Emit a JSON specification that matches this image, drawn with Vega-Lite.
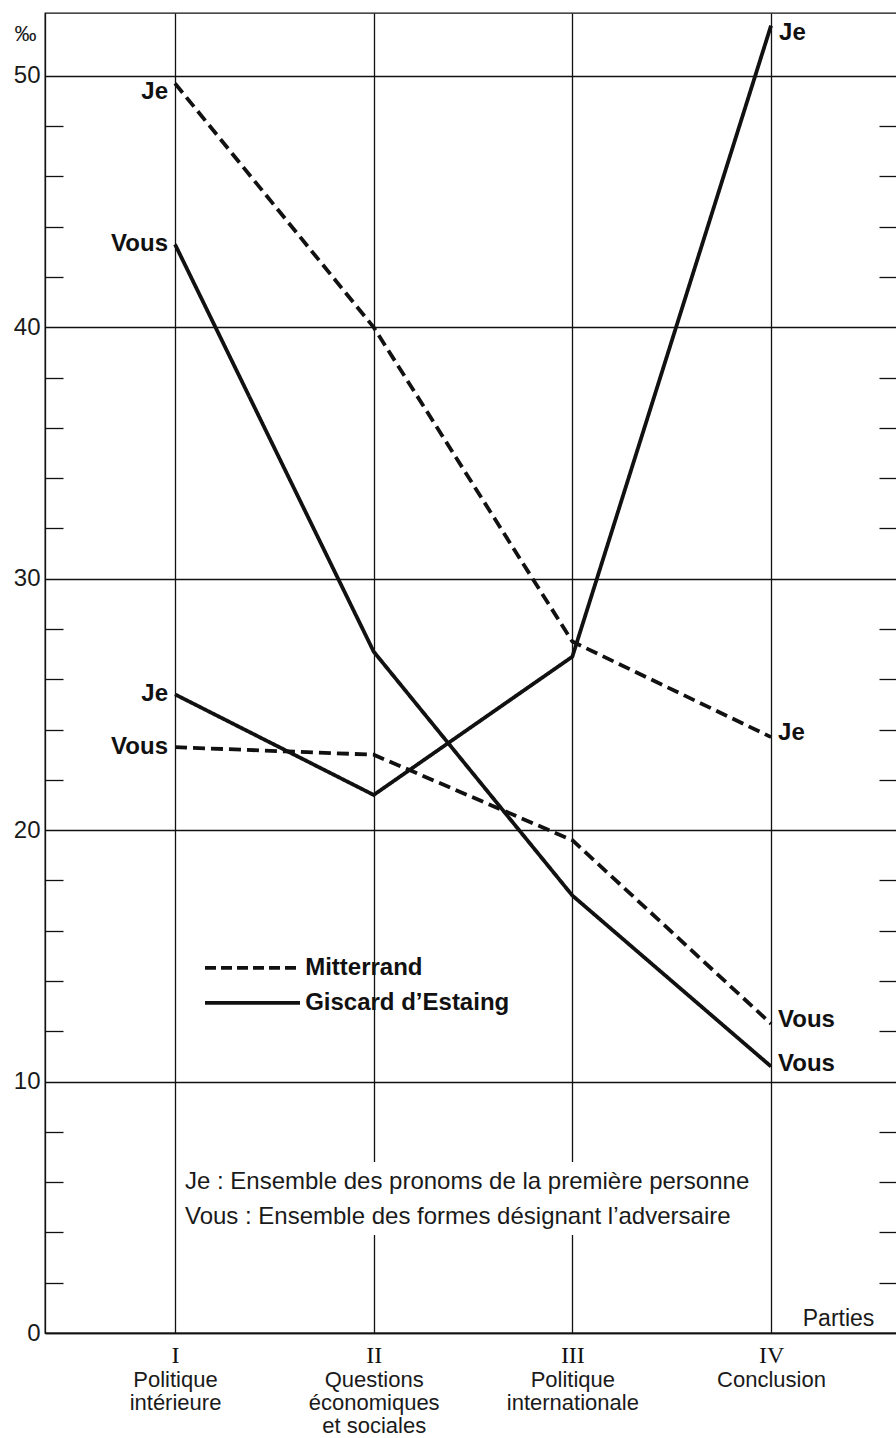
{
  "$schema": "https://vega.github.io/schema/vega-lite/v6.json",
  "width": 852,
  "height": 1320,
  "autosize": {"type": "none"},
  "padding": {"left": 45, "top": 13, "right": 0, "bottom": 105},
  "background": "white",
  "config": {
    "view": {"stroke": "#111", "strokeWidth": 1.3},
    "font": "Liberation Sans",
    "axis": {"labelFont": "Liberation Sans", "titleFont": "Liberation Sans"}
  },
  "data": {
    "values": [
      {"candidate": "Mitterrand", "pronoun": "Je", "part": 1, "value": 49.7},
      {"candidate": "Mitterrand", "pronoun": "Je", "part": 2, "value": 40.0},
      {"candidate": "Mitterrand", "pronoun": "Je", "part": 3, "value": 27.5},
      {"candidate": "Mitterrand", "pronoun": "Je", "part": 4, "value": 23.7},
      {"candidate": "Mitterrand", "pronoun": "Vous", "part": 1, "value": 23.3},
      {"candidate": "Mitterrand", "pronoun": "Vous", "part": 2, "value": 23.0},
      {"candidate": "Mitterrand", "pronoun": "Vous", "part": 3, "value": 19.6},
      {"candidate": "Mitterrand", "pronoun": "Vous", "part": 4, "value": 12.3},
      {"candidate": "Giscard d’Estaing", "pronoun": "Je", "part": 1, "value": 25.4},
      {"candidate": "Giscard d’Estaing", "pronoun": "Je", "part": 2, "value": 21.4},
      {"candidate": "Giscard d’Estaing", "pronoun": "Je", "part": 3, "value": 26.9},
      {"candidate": "Giscard d’Estaing", "pronoun": "Je", "part": 4, "value": 52.0},
      {"candidate": "Giscard d’Estaing", "pronoun": "Vous", "part": 1, "value": 43.3},
      {"candidate": "Giscard d’Estaing", "pronoun": "Vous", "part": 2, "value": 27.1},
      {"candidate": "Giscard d’Estaing", "pronoun": "Vous", "part": 3, "value": 17.4},
      {"candidate": "Giscard d’Estaing", "pronoun": "Vous", "part": 4, "value": 10.6}
    ]
  },
  "resolve": {"axis": {"x": "independent", "y": "independent"}},
  "layer": [
    {
      "mark": {"type": "line", "stroke": "#111", "strokeWidth": 3.8, "strokeCap": "butt"},
      "encoding": {
        "x": {
          "field": "part", "type": "quantitative",
          "scale": {"domain": [0.3456, 4.634], "nice": false, "zero": false},
          "axis": {
            "values": [1, 2, 3, 4], "grid": true, "gridColor": "#111", "gridWidth": 1.3, "gridOpacity": 1,
            "domain": true, "domainColor": "#111", "domainWidth": 1.3, "ticks": false,
            "labelExpr": "['I','II','III','IV'][datum.value - 1]",
            "labelFont": "Liberation Serif", "labelFontSize": 24, "labelColor": "#111",
            "labelPadding": 10, "labelBaseline": "top", "labelOverlap": false, "labelFlush": false,
            "title": null
          }
        },
        "y": {
          "field": "value", "type": "quantitative",
          "scale": {"domain": [0, 52.5], "nice": false, "zero": true},
          "axis": {
            "values": [0, 10, 20, 30, 40, 50], "grid": true, "gridColor": "#111", "gridWidth": 1.3, "gridOpacity": 1,
            "domain": true, "domainColor": "#111", "domainWidth": 1.3, "ticks": false,
            "labelFontSize": 24, "labelColor": "#1a1a1a", "labelPadding": 5, "labelFlush": false, "labelOverlap": false,
            "title": "‰", "titleAngle": 0, "titleX": -20, "titleY": 20, "titleFontSize": 22,
            "titleFontWeight": "normal", "titleAlign": "center", "titleBaseline": "middle", "titleColor": "#1a1a1a"
          }
        },
        "detail": [{"field": "candidate"}, {"field": "pronoun"}],
        "strokeDash": {
          "field": "candidate", "type": "nominal",
          "scale": {"domain": ["Mitterrand", "Giscard d’Estaing"], "range": [[12, 6], [1, 0]]},
          "legend": null
        }
      }
    },
    {
      "transform": [{"filter": "datum.part == 1 && !(datum.candidate == 'Mitterrand' && datum.pronoun == 'Je')"}],
      "mark": {"type": "text", "align": "right", "baseline": "middle", "dx": -7, "fontWeight": "bold", "fontSize": 24, "color": "#111"},
      "encoding": {
        "x": {
          "field": "part", "type": "quantitative",
          "axis": {
            "orient": "bottom", "values": [1, 2, 3, 4], "grid": false, "domain": false, "ticks": false,
            "labelExpr": "datum.value == 1 ? ['Politique','intérieure'] : datum.value == 2 ? ['Questions','économiques','et sociales'] : datum.value == 3 ? ['Politique','internationale'] : ['Conclusion']",
            "labelFontSize": 22, "labelLineHeight": 23, "labelPadding": 36, "labelBaseline": "top",
            "labelColor": "#1a1a1a", "labelOverlap": false, "labelFlush": false, "title": null
          }
        },
        "y": {
          "field": "value", "type": "quantitative",
          "axis": {
            "orient": "right", "values": [2, 4, 6, 8, 12, 14, 16, 18, 22, 24, 26, 28, 32, 34, 36, 38, 42, 44, 46, 48],
            "grid": false, "domain": false, "labels": false, "ticks": true, "tickSize": -18,
            "tickColor": "#111", "tickWidth": 1.3, "title": null
          }
        },
        "text": {"field": "pronoun"}
      }
    },
    {
      "transform": [{"filter": "datum.part == 1 && datum.candidate == 'Mitterrand' && datum.pronoun == 'Je'"}],
      "mark": {"type": "text", "align": "right", "baseline": "middle", "dx": -7, "dy": 9, "fontWeight": "bold", "fontSize": 24, "color": "#111"},
      "encoding": {
        "x": {"field": "part", "type": "quantitative", "axis": null},
        "y": {"field": "value", "type": "quantitative", "axis": null},
        "text": {"field": "pronoun"}
      }
    },
    {
      "transform": [{"filter": "datum.part == 4 && datum.candidate == 'Mitterrand'"}],
      "mark": {"type": "text", "align": "left", "baseline": "middle", "dx": 7, "dy": -4, "fontWeight": "bold", "fontSize": 24, "color": "#111"},
      "encoding": {
        "x": {"field": "part", "type": "quantitative", "axis": null},
        "y": {"field": "value", "type": "quantitative", "axis": null},
        "text": {"field": "pronoun"}
      }
    },
    {
      "transform": [{"filter": "datum.part == 4 && datum.candidate != 'Mitterrand' && datum.pronoun == 'Vous'"}],
      "mark": {"type": "text", "align": "left", "baseline": "middle", "dx": 7, "dy": -2, "fontWeight": "bold", "fontSize": 24, "color": "#111"},
      "encoding": {
        "x": {"field": "part", "type": "quantitative", "axis": null},
        "y": {"field": "value", "type": "quantitative", "axis": null},
        "text": {"field": "pronoun"}
      }
    },
    {
      "transform": [{"filter": "datum.part == 4 && datum.candidate != 'Mitterrand' && datum.pronoun == 'Je'"}],
      "mark": {"type": "text", "align": "left", "baseline": "middle", "dx": 8, "dy": 7, "fontWeight": "bold", "fontSize": 24, "color": "#111"},
      "encoding": {
        "x": {"field": "part", "type": "quantitative", "axis": null},
        "y": {"field": "value", "type": "quantitative", "axis": null},
        "text": {"field": "pronoun"}
      }
    },
    {
      "data": {"values": [{}]},
      "mark": {"type": "rule", "stroke": "#111", "strokeWidth": 3.8, "strokeDash": [11, 5]},
      "encoding": {
        "x": {"datum": 1.151, "type": "quantitative", "axis": null},
        "x2": {"datum": 1.629},
        "y": {
          "datum": 14.52, "type": "quantitative",
          "axis": {
            "orient": "left", "values": [2, 4, 6, 8, 12, 14, 16, 18, 22, 24, 26, 28, 32, 34, 36, 38, 42, 44, 46, 48],
            "grid": false, "domain": false, "labels": false, "ticks": true, "tickSize": -18,
            "tickColor": "#111", "tickWidth": 1.3, "title": null
          }
        }
      }
    },
    {
      "data": {"values": [{}]},
      "mark": {"type": "rule", "stroke": "#111", "strokeWidth": 3.8},
      "encoding": {
        "x": {"datum": 1.151, "type": "quantitative", "axis": null},
        "x2": {"datum": 1.629},
        "y": {"datum": 13.13, "type": "quantitative", "axis": null}
      }
    },
    {
      "data": {"values": [{"label": "Mitterrand", "y": 14.52}, {"label": "Giscard d’Estaing", "y": 13.13}]},
      "mark": {"type": "text", "align": "left", "baseline": "middle", "fontWeight": "bold", "fontSize": 24, "color": "#111"},
      "encoding": {
        "x": {"datum": 1.655, "type": "quantitative", "axis": null},
        "y": {"field": "y", "type": "quantitative", "axis": null},
        "text": {"field": "label"}
      }
    },
    {
      "data": {"values": [{}]},
      "mark": {"type": "rect", "fill": "white"},
      "encoding": {
        "x": {"datum": 1.015, "type": "quantitative", "axis": null},
        "x2": {"datum": 3.97},
        "y": {"datum": 6.8, "type": "quantitative", "axis": null},
        "y2": {"datum": 3.9}
      }
    },
    {
      "data": {"values": [{"note": ["Je : Ensemble des pronoms de la première personne", "Vous : Ensemble des formes désignant l’adversaire"]}]},
      "mark": {"type": "text", "align": "left", "baseline": "middle", "fontSize": 24, "lineHeight": 35, "color": "#1a1a1a"},
      "encoding": {
        "x": {"datum": 1.05, "type": "quantitative", "axis": null},
        "y": {"datum": 6.0, "type": "quantitative", "axis": null},
        "text": {"field": "note"}
      }
    },
    {
      "data": {"values": [{"label": "Parties"}]},
      "mark": {"type": "text", "align": "right", "baseline": "alphabetic", "dy": -7, "fontSize": 23, "color": "#1a1a1a"},
      "encoding": {
        "x": {"datum": 4.52, "type": "quantitative", "axis": null},
        "y": {"datum": 0, "type": "quantitative", "axis": null},
        "text": {"field": "label"}
      }
    }
  ]
}
